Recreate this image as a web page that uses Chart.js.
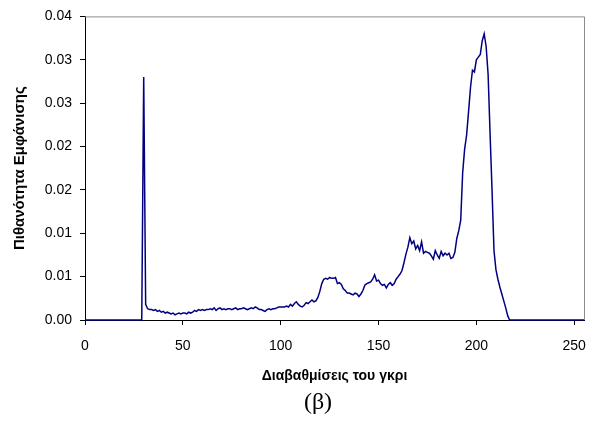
<!DOCTYPE html>
<html lang="el">
<head>
<meta charset="utf-8">
<title>Ιστόγραμμα γκρι</title>
<script src="https://cdn.jsdelivr.net/npm/chart.js@4.4.1/dist/chart.umd.min.js"></script>
<style>
  html, body { margin: 0; padding: 0; background: #ffffff; }
  #wrap { width: 595px; height: 421px; position: relative; }
</style>
</head>
<body>
<div id="wrap"><canvas id="histChart" width="595" height="421"></canvas></div>
<script>
// Gray levels 0..255 (x categories)
const grayLevels = Array.from({ length: 256 }, (_, i) => i);

// Probability of each gray level
const zeroRunLow = new Array(30).fill(0); // levels 0-29
const spikeAndFloor = [
  0.0280, 0.0018, 0.0013, 0.0012, 0.0012, 0.0011, 0.0012, 0.0010, 0.0011, 0.0009,
  0.0010, 0.0008, 0.0009, 0.0008, 0.0007, 0.0008, 0.0006, 0.0007, 0.0008, 0.0007,
  0.0008, 0.0008, 0.0007, 0.0009, 0.0008, 0.0009, 0.0011, 0.0010, 0.0012, 0.0011,
  0.0012, 0.0011, 0.0012, 0.0012, 0.0013, 0.0012, 0.0014, 0.0011, 0.0013, 0.0014,
  0.0012, 0.0013, 0.0012, 0.0013, 0.0013, 0.0012, 0.0013, 0.0014, 0.0012, 0.0013,
  0.0013, 0.0014, 0.0013, 0.0012, 0.0013, 0.0014, 0.0013, 0.0015, 0.0014, 0.0012
]; // levels 30-89
const midRange = [
  0.0012, 0.0011, 0.0010, 0.0012, 0.0013, 0.0012, 0.0013, 0.0013, 0.0014, 0.0015,
  0.0015, 0.0015, 0.0015, 0.0016, 0.0015, 0.0018, 0.0016, 0.0019, 0.0021, 0.0018,
  0.0016, 0.0015, 0.0017, 0.0020, 0.0019, 0.0021, 0.0023, 0.0021, 0.0022, 0.0026,
  0.0033, 0.0042, 0.0047, 0.0048, 0.0047, 0.0049, 0.0048, 0.0048, 0.0049, 0.0042,
  0.0043, 0.0041, 0.0036, 0.0034, 0.0031, 0.0031, 0.0030, 0.0029, 0.0031, 0.0030,
  0.0027, 0.0030, 0.0034, 0.0040, 0.0042, 0.0043, 0.0044, 0.0047, 0.0052, 0.0045,
  0.0046, 0.0042, 0.0040, 0.0041, 0.0037, 0.0041, 0.0043, 0.0040, 0.0042, 0.0047
]; // levels 90-159
const upperRange = [
  0.0050, 0.0053, 0.0057, 0.0066, 0.0076, 0.0084, 0.0095, 0.0088, 0.0091, 0.0082,
  0.0086, 0.0080, 0.0090, 0.0077, 0.0079, 0.0078, 0.0077, 0.0074, 0.0070, 0.0080,
  0.0075, 0.0071, 0.0079, 0.0074, 0.0077, 0.0075, 0.0077, 0.0071, 0.0072, 0.0078,
  0.0094, 0.0103, 0.0115, 0.0170, 0.0197, 0.0213, 0.0240, 0.0268, 0.0288, 0.0286,
  0.0300, 0.0303, 0.0306, 0.0322, 0.0330, 0.0315, 0.0283, 0.0215, 0.0150, 0.0080,
  0.0058, 0.0047, 0.0038, 0.0030, 0.0022, 0.0014, 0.0005
]; // levels 160-216
const zeroRunHigh = new Array(39).fill(0); // levels 217-255

const probability = [...zeroRunLow, ...spikeAndFloor, ...midRange, ...upperRange, ...zeroRunHigh];

const xTickValues = [0, 50, 100, 150, 200, 250];
const yTickLabels = ["0.00", "0.01", "0.01", "0.02", "0.02", "0.03", "0.03", "0.04"];
const captionText = "(β)";

const fontFamily = "'Liberation Sans', Arial, sans-serif";

// Gray top/right frame of the plot area, like the spreadsheet original
const plotFrame = {
  id: "plotFrame",
  beforeDatasetsDraw(chart) {
    const { ctx, chartArea } = chart;
    ctx.save();
    ctx.strokeStyle = "#8c8c8c";
    ctx.lineWidth = 1;
    ctx.beginPath();
    ctx.moveTo(chartArea.left, chartArea.top + 0.5);
    ctx.lineTo(chartArea.right + 0.5, chartArea.top + 0.5);
    ctx.lineTo(chartArea.right + 0.5, chartArea.bottom);
    ctx.stroke();
    ctx.restore();
  }
};

// "(β)" caption under the axis title, slightly left of centre as in the source figure
const caption = {
  id: "caption",
  afterDraw(chart) {
    const { ctx, chartArea } = chart;
    ctx.save();
    ctx.fillStyle = "#000000";
    ctx.font = "24px 'Liberation Serif', 'Times New Roman', serif";
    ctx.textAlign = "center";
    ctx.textBaseline = "middle";
    ctx.fillText(captionText, chartArea.left + 233, chartArea.bottom + 83);
    ctx.restore();
  }
};

new Chart(document.getElementById("histChart"), {
  type: "line",
  data: {
    datasets: [
      {
        data: grayLevels.map((g, i) => ({ x: g, y: probability[i] })),
        borderColor: "#000080",
        borderWidth: 1.5,
        pointRadius: 0,
        tension: 0,
        clip: false
      }
    ]
  },
  options: {
    responsive: false,
    animation: false,
    devicePixelRatio: 1,
    layout: { padding: { top: 15, right: 11, bottom: 35, left: 0 } },
    plugins: {
      legend: { display: false },
      tooltip: { enabled: false },
      title: { display: false }
    },
    scales: {
      x: {
        type: "linear",
        min: 0,
        max: 255,
        afterFit(scale) {
          scale.height = 66;
          scale.paddingLeft = 0;
          scale.paddingRight = 0;
        },
        afterBuildTicks(scale) { scale.ticks = xTickValues.map((v) => ({ value: v })); },
        border: { color: "#000000", width: 1 },
        grid: { drawOnChartArea: false, drawTicks: true, tickLength: 5, color: "#000000" },
        ticks: { color: "#000000", padding: 13, font: { family: fontFamily, size: 14 } },
        title: {
          display: true,
          text: "Διαβαθμίσεις του γκρι",
          color: "#000000",
          padding: { top: 0, bottom: 1 },
          font: { family: fontFamily, size: 14, weight: "bold" }
        }
      },
      y: {
        min: 0,
        max: 0.035,
        afterFit(scale) { scale.width = 85; },
        border: { color: "#000000", width: 1 },
        grid: { drawOnChartArea: false, drawTicks: true, tickLength: 5, color: "#000000" },
        ticks: {
          stepSize: 0.005,
          color: "#000000",
          padding: 8,
          font: { family: fontFamily, size: 14 },
          callback: (value) => yTickLabels[Math.round(value / 0.005)]
        },
        title: {
          display: true,
          text: "Πιθανότητα Εμφάνισης",
          color: "#000000",
          padding: { top: 11, bottom: 0 },
          font: { family: fontFamily, size: 15, weight: "bold" }
        }
      }
    }
  },
  plugins: [plotFrame, caption]
});
</script>
</body>
</html>
